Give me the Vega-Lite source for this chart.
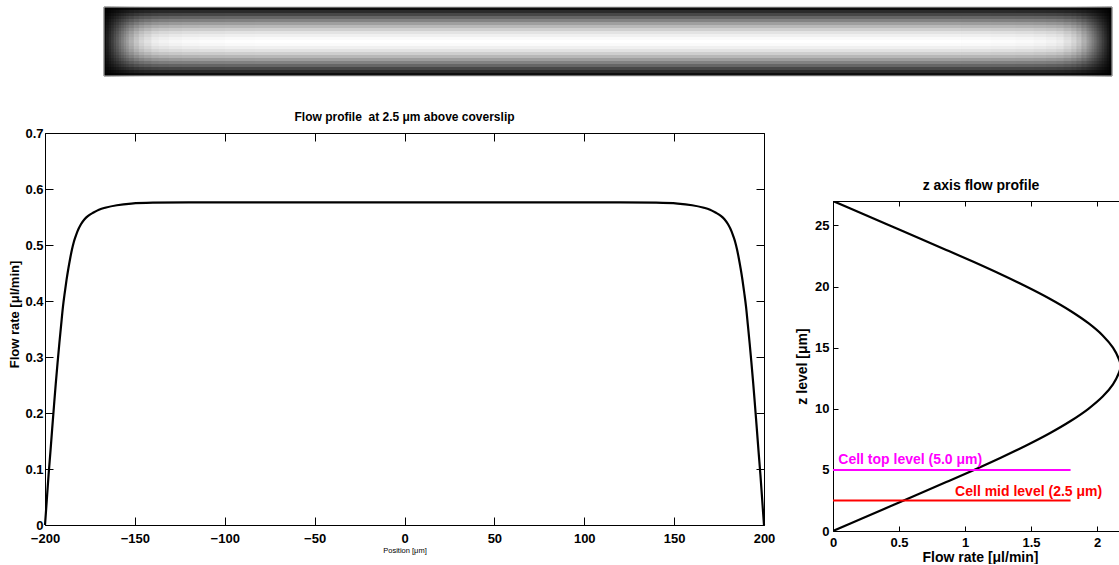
{
  "$schema": "https://vega.github.io/schema/vega-lite/v6.json",
  "background": "white",
  "padding": {"left": 8, "top": 6, "right": 0, "bottom": 0},
  "config": {
    "view": {"stroke": null},
    "axis": {"domainColor": "black", "tickColor": "black", "labelColor": "black", "titleColor": "black", "grid": false, "domainWidth": 1, "tickWidth": 1, "labelFlush": false, "labelOverlap": false},
    "title": {"color": "black"}
  },
  "datasets": {
    "columns": [
      {"x": -200, "x2": -199, "v": 0.04},
      {"x": -199, "x2": -198, "v": 0.12},
      {"x": -198, "x2": -197, "v": 0.19},
      {"x": -197, "x2": -196, "v": 0.26},
      {"x": -196, "x2": -195, "v": 0.33},
      {"x": -195, "x2": -194, "v": 0.4},
      {"x": -194, "x2": -193, "v": 0.47},
      {"x": -193, "x2": -192, "v": 0.53},
      {"x": -192, "x2": -191, "v": 0.59},
      {"x": -191, "x2": -190, "v": 0.65},
      {"x": -190, "x2": -188, "v": 0.72},
      {"x": -188, "x2": -186, "v": 0.795},
      {"x": -186, "x2": -184, "v": 0.855},
      {"x": -184, "x2": -181, "v": 0.9},
      {"x": -181, "x2": -178, "v": 0.94},
      {"x": -178, "x2": -174, "v": 0.958},
      {"x": -174, "x2": -169, "v": 0.973},
      {"x": -169, "x2": -162, "v": 0.983},
      {"x": -162, "x2": -152, "v": 0.991},
      {"x": -152, "x2": -140, "v": 0.997},
      {"x": -140, "x2": 140, "v": 1},
      {"x": 140, "x2": 152, "v": 0.997},
      {"x": 152, "x2": 162, "v": 0.991},
      {"x": 162, "x2": 169, "v": 0.983},
      {"x": 169, "x2": 174, "v": 0.973},
      {"x": 174, "x2": 178, "v": 0.958},
      {"x": 178, "x2": 181, "v": 0.94},
      {"x": 181, "x2": 184, "v": 0.9},
      {"x": 184, "x2": 186, "v": 0.855},
      {"x": 186, "x2": 188, "v": 0.795},
      {"x": 188, "x2": 190, "v": 0.72},
      {"x": 190, "x2": 191, "v": 0.65},
      {"x": 191, "x2": 192, "v": 0.59},
      {"x": 192, "x2": 193, "v": 0.53},
      {"x": 193, "x2": 194, "v": 0.47},
      {"x": 194, "x2": 195, "v": 0.4},
      {"x": 195, "x2": 196, "v": 0.33},
      {"x": 196, "x2": 197, "v": 0.26},
      {"x": 197, "x2": 198, "v": 0.19},
      {"x": 198, "x2": 199, "v": 0.12},
      {"x": 199, "x2": 200, "v": 0.04}
    ],
    "rows": [
      {"row": 0, "rel": 0.06}, {"row": 1, "rel": 0.17}, {"row": 2, "rel": 0.28}, {"row": 3, "rel": 0.4},
      {"row": 4, "rel": 0.51}, {"row": 5, "rel": 0.62}, {"row": 6, "rel": 0.72}, {"row": 7, "rel": 0.81},
      {"row": 8, "rel": 0.89}, {"row": 9, "rel": 0.94}, {"row": 10, "rel": 0.98}, {"row": 11, "rel": 1},
      {"row": 12, "rel": 0.98}, {"row": 13, "rel": 0.94}, {"row": 14, "rel": 0.89}, {"row": 15, "rel": 0.81},
      {"row": 16, "rel": 0.72}, {"row": 17, "rel": 0.62}, {"row": 18, "rel": 0.51}, {"row": 19, "rel": 0.4},
      {"row": 20, "rel": 0.28}, {"row": 21, "rel": 0.17}, {"row": 22, "rel": 0.06}
    ],
    "lateral": [
      {"position": -200, "flow": 0}, {"position": -199.5, "flow": 0.022}, {"position": -199, "flow": 0.045},
      {"position": -198, "flow": 0.09}, {"position": -197, "flow": 0.13}, {"position": -196, "flow": 0.172},
      {"position": -195, "flow": 0.213}, {"position": -194, "flow": 0.253}, {"position": -193, "flow": 0.29},
      {"position": -192, "flow": 0.325}, {"position": -191, "flow": 0.358}, {"position": -190, "flow": 0.39},
      {"position": -189, "flow": 0.415}, {"position": -188, "flow": 0.438}, {"position": -187, "flow": 0.458},
      {"position": -186, "flow": 0.476}, {"position": -185, "flow": 0.492}, {"position": -184, "flow": 0.505},
      {"position": -183, "flow": 0.515}, {"position": -182, "flow": 0.524}, {"position": -180, "flow": 0.537},
      {"position": -178, "flow": 0.546}, {"position": -176, "flow": 0.552}, {"position": -173, "flow": 0.558},
      {"position": -170, "flow": 0.563}, {"position": -166, "flow": 0.567}, {"position": -160, "flow": 0.571},
      {"position": -152, "flow": 0.574}, {"position": -140, "flow": 0.5755}, {"position": -120, "flow": 0.576},
      {"position": 0, "flow": 0.576},
      {"position": 120, "flow": 0.576}, {"position": 140, "flow": 0.5755}, {"position": 152, "flow": 0.574},
      {"position": 160, "flow": 0.571}, {"position": 166, "flow": 0.567}, {"position": 170, "flow": 0.563},
      {"position": 173, "flow": 0.558}, {"position": 176, "flow": 0.552}, {"position": 178, "flow": 0.546},
      {"position": 180, "flow": 0.537}, {"position": 182, "flow": 0.524}, {"position": 183, "flow": 0.515},
      {"position": 184, "flow": 0.505}, {"position": 185, "flow": 0.492}, {"position": 186, "flow": 0.476},
      {"position": 187, "flow": 0.458}, {"position": 188, "flow": 0.438}, {"position": 189, "flow": 0.415},
      {"position": 190, "flow": 0.39}, {"position": 191, "flow": 0.358}, {"position": 192, "flow": 0.325},
      {"position": 193, "flow": 0.29}, {"position": 194, "flow": 0.253}, {"position": 195, "flow": 0.213},
      {"position": 196, "flow": 0.172}, {"position": 197, "flow": 0.13}, {"position": 198, "flow": 0.09},
      {"position": 199, "flow": 0.045}, {"position": 199.5, "flow": 0.022}, {"position": 200, "flow": 0}
    ],
    "vertical": [
      {"z": 0, "flow": 0}, {"z": 1, "flow": 0.215}, {"z": 2, "flow": 0.43}, {"z": 3, "flow": 0.645},
      {"z": 4, "flow": 0.858}, {"z": 5, "flow": 1.068}, {"z": 6, "flow": 1.271}, {"z": 7, "flow": 1.464},
      {"z": 8, "flow": 1.642}, {"z": 9, "flow": 1.8}, {"z": 10, "flow": 1.935}, {"z": 11, "flow": 2.043},
      {"z": 12, "flow": 2.121}, {"z": 13, "flow": 2.168}, {"z": 13.5, "flow": 2.18}, {"z": 14, "flow": 2.168},
      {"z": 15, "flow": 2.121}, {"z": 16, "flow": 2.043}, {"z": 17, "flow": 1.935}, {"z": 18, "flow": 1.8},
      {"z": 19, "flow": 1.642}, {"z": 20, "flow": 1.464}, {"z": 21, "flow": 1.271}, {"z": 22, "flow": 1.068},
      {"z": 23, "flow": 0.858}, {"z": 24, "flow": 0.645}, {"z": 25, "flow": 0.43}, {"z": 26, "flow": 0.215},
      {"z": 27, "flow": 0}
    ],
    "levels": [
      {"level": "top", "z": 5, "from": 0, "to": 1.8},
      {"level": "mid", "z": 2.5, "from": 0, "to": 1.8}
    ],
    "notes": [
      {"level": "top", "label": "Cell top level (5.0 μm)", "flow": 0.04, "z": 5.5},
      {"level": "mid", "label": "Cell mid level (2.5 μm)", "flow": 0.925, "z": 2.87}
    ]
  },
  "bounds": "flush",
  "spacing": 57,
  "vconcat": [
    {
      "width": 1067,
      "height": 69,
      "layer": [
        {
          "data": {"name": "columns"},
          "mark": {"type": "rect", "strokeWidth": 0.8},
          "encoding": {
            "x": {"field": "x", "type": "quantitative", "scale": {"domain": [-223.41, 200], "nice": false, "zero": false}, "axis": null},
            "x2": {"field": "x2"},
            "color": {"field": "v", "type": "quantitative", "scale": {"domain": [0, 1], "range": ["#000000", "#ffffff"]}, "legend": null},
            "stroke": {"field": "v", "type": "quantitative", "scale": {"domain": [0, 1], "range": ["#000000", "#ffffff"]}, "legend": null}
          }
        },
        {
          "data": {"name": "rows"},
          "mark": {"type": "rect", "color": "#000000"},
          "encoding": {
            "x": {"datum": -200, "type": "quantitative"},
            "x2": {"datum": 200},
            "y": {"field": "row", "type": "ordinal", "axis": null, "scale": {"paddingInner": 0, "paddingOuter": 0}},
            "opacity": {"field": "rel", "type": "quantitative", "scale": {"domain": [0, 1], "range": [1, 0]}, "legend": null}
          }
        },
        {
          "data": {"values": [{"image": "flow map"}]},
          "mark": {"type": "rect", "filled": false, "color": "#bdbdbd", "strokeWidth": 1},
          "encoding": {
            "x": {"datum": -200, "type": "quantitative"},
            "x2": {"datum": 200}
          }
        }
      ]
    },
    {
      "bounds": "flush",
      "spacing": 69,
      "hconcat": [
        {
          "width": 719,
          "height": 392,
          "title": {"text": "Flow profile\u00a0 at 2.5 μm above coverslip", "font": "Liberation Sans", "fontSize": 12, "fontWeight": "bold", "frame": "group", "offset": -6, "baseline": "alphabetic"},
          "data": {"name": "lateral"},
          "layer": [
            {
              "mark": {"type": "line", "color": "black", "strokeWidth": 2.2, "interpolate": "monotone"},
              "encoding": {
                "x": {"field": "position", "type": "quantitative", "scale": {"domain": [-200, 200], "nice": false},
                  "axis": {"orient": "bottom", "values": [-200, -150, -100, -50, 0, 50, 100, 150, 200], "format": "~r",
                    "labelFont": "Liberation Sans", "labelFontSize": 13, "labelFontWeight": "bold",
                    "labelPadding": 15, "tickSize": -8,
                    "title": "Position [μm]", "titleFont": "Liberation Sans", "titleFontSize": 7.5, "titleFontWeight": "normal", "titlePadding": 1}},
                "y": {"field": "flow", "type": "quantitative", "scale": {"domain": [0, 0.7], "nice": false},
                  "axis": {"orient": "left", "values": [0, 0.1, 0.2, 0.3, 0.4, 0.5, 0.6, 0.7], "format": "~r",
                    "labelFont": "Liberation Sans", "labelFontSize": 13, "labelFontWeight": "bold",
                    "labelPadding": 10, "tickSize": -8,
                    "title": "Flow rate [μl/min]", "titleFont": "Liberation Sans", "titleFontSize": 13, "titleFontWeight": "bold", "titlePadding": 3, "titleY": 181}}
              }
            },
            {
              "mark": {"type": "line", "strokeOpacity": 0},
              "encoding": {
                "x": {"field": "position", "type": "quantitative",
                  "axis": {"orient": "top", "values": [-200, -150, -100, -50, 0, 50, 100, 150, 200], "labels": false, "title": null, "tickSize": -8}},
                "y": {"field": "flow", "type": "quantitative",
                  "axis": {"orient": "right", "values": [0, 0.1, 0.2, 0.3, 0.4, 0.5, 0.6, 0.7], "labels": false, "title": null, "tickSize": -8}}
              }
            }
          ],
          "resolve": {"axis": {"x": "independent", "y": "independent"}}
        },
        {
          "bounds": "flush",
          "spacing": 10,
          "vconcat": [
            {"width": 286, "height": 58, "data": {"values": []}, "mark": "point"},
            {
              "width": 286,
              "height": 330,
              "title": {"text": "z axis flow profile", "font": "Liberation Sans", "fontSize": 14, "fontWeight": "bold", "frame": "group", "offset": -3, "baseline": "alphabetic", "dx": 5},
              "layer": [
                {
                  "data": {"name": "vertical"},
                  "mark": {"type": "line", "color": "black", "strokeWidth": 2.2, "interpolate": "catmull-rom", "clip": true},
                  "encoding": {
                    "x": {"field": "flow", "type": "quantitative", "scale": {"domain": [0, 2.1667], "nice": false},
                      "axis": {"orient": "bottom", "values": [0, 0.5, 1, 1.5, 2], "format": "~r",
                        "labelFont": "Liberation Sans", "labelFontSize": 13, "labelFontWeight": "bold",
                        "labelPadding": 10, "tickSize": -5,
                        "title": "Flow rate [μl/min]", "titleFont": "Liberation Sans", "titleFontSize": 14, "titleFontWeight": "bold", "titlePadding": 1, "titleX": 147}},
                    "y": {"field": "z", "type": "quantitative", "scale": {"domain": [0, 27], "nice": false},
                      "axis": {"orient": "left", "values": [0, 5, 10, 15, 20, 25], "format": "~r",
                        "labelFont": "Liberation Sans", "labelFontSize": 13, "labelFontWeight": "bold",
                        "labelPadding": 9, "tickSize": -5,
                        "title": "z level [μm]", "titleFont": "Liberation Sans", "titleFontSize": 14, "titleFontWeight": "bold", "titlePadding": 5}},
                    "order": {"field": "z", "type": "quantitative"}
                  }
                },
                {
                  "data": {"name": "levels"},
                  "mark": {"type": "rule", "strokeWidth": 2},
                  "encoding": {
                    "x": {"field": "from", "type": "quantitative", "axis": null},
                    "x2": {"field": "to"},
                    "y": {"field": "z", "type": "quantitative"},
                    "color": {"field": "level", "type": "nominal", "scale": {"domain": ["top", "mid"], "range": ["#ff00ff", "#ff0000"]}, "legend": null}
                  }
                },
                {
                  "data": {"name": "notes"},
                  "mark": {"type": "text", "align": "left", "baseline": "alphabetic", "font": "Liberation Sans", "fontSize": 14, "fontWeight": "bold"},
                  "encoding": {
                    "x": {"field": "flow", "type": "quantitative", "axis": null},
                    "y": {"field": "z", "type": "quantitative"},
                    "text": {"field": "label"},
                    "color": {"field": "level", "type": "nominal", "legend": null}
                  }
                },
                {
                  "data": {"name": "vertical"},
                  "mark": {"type": "line", "strokeOpacity": 0},
                  "encoding": {
                    "x": {"field": "flow", "type": "quantitative",
                      "axis": {"orient": "top", "values": [0, 0.5, 1, 1.5, 2], "labels": false, "title": null, "tickSize": -5}},
                    "y": {"field": "z", "type": "quantitative"}
                  }
                }
              ],
              "resolve": {"axis": {"x": "independent"}}
            }
          ]
        }
      ]
    }
  ]
}
